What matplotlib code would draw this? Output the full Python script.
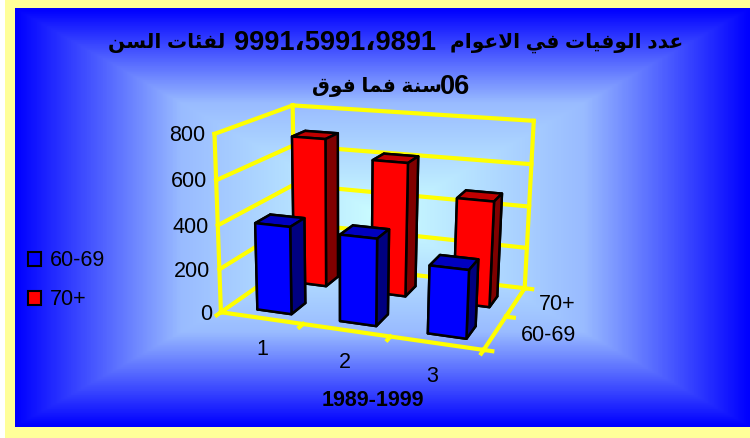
import unicodedata
import numpy as np
import matplotlib
matplotlib.use("Agg")
import matplotlib.pyplot as plt
from matplotlib.patches import Patch, Rectangle
from matplotlib.colors import LinearSegmentedColormap

# title pieces as they sit on each line, left to right
title_line1 = ["لفئات السن", "1989،1995،1999", "عدد الوفيات في الاعوام"]
title_line2 = ["سنة فما فوق", "60"]
categories = ["1", "2", "3"]
series_names = ["60-69", "70+"]
values_60 = [400, 390, 300]
values_70 = [710, 630, 490]
value_ticks = [0, 200, 400, 600, 800]
xlabel = "1989-1999"

RIGHT_ONLY = "اأإآدذرزوؤة"


def is_letter(c):
    return "\u0600" <= c <= "\u06ff" and c.isalpha()


def joins_forward(c):
    return is_letter(c) and c not in RIGHT_ONLY and c != "ء"


def shape(text):
    # matplotlib has no arabic shaping, so pick presentation forms by hand
    out = []
    i = 0
    while i < len(text):
        c = text[i]
        if not is_letter(c):
            out.append(c)
            i += 1
            continue
        before = i > 0 and joins_forward(text[i - 1])
        if c == "ل" and i + 1 < len(text) and text[i + 1] == "ا":
            form = "FINAL" if before else "ISOLATED"
            out.append(unicodedata.lookup("ARABIC LIGATURE LAM WITH ALEF " + form + " FORM"))
            i += 2
            continue
        after = joins_forward(c) and i + 1 < len(text) and is_letter(text[i + 1])
        form = {(0, 0): "ISOLATED", (0, 1): "INITIAL", (1, 0): "FINAL", (1, 1): "MEDIAL"}[(int(before), int(after))]
        out.append(unicodedata.lookup(unicodedata.name(c) + " " + form + " FORM"))
        i += 1
    # the reference shows the whole line mirrored, digits too
    return "".join(out)[::-1]


plt.rcParams["font.family"] = ["Liberation Sans", "DejaVu Sans"]

fig = plt.figure(figsize=(7.5, 4.38), dpi=100, facecolor="white")

bg = fig.add_axes([0, 0, 1, 1])
bg.set_xlim(0, 750)
bg.set_ylim(438, 0)
bg.axis("off")
bg.add_patch(Rectangle((5, 0), 745, 438, color="#FFFF99", lw=0))
xx, yy = np.meshgrid(np.linspace(-1, 1, 368), np.linspace(-1, 1, 210))
grad = np.maximum(np.abs(xx), np.abs(yy))
cmap = LinearSegmentedColormap.from_list("bg", [(0, "#CCFFFF"), (0.55, "#99BBFF"), (1, "#0000FF")])
bg.imshow(grad, extent=(15, 750, 427, 8), cmap=cmap, vmin=0, vmax=1, aspect="auto", zorder=1)

title_pos = [(167, 43, 14.5), (335, 43, 19.5), (567, 43, 14.5)]
for piece, (x, y, size) in zip(title_line1, title_pos):
    bg.text(x, y, shape(piece), ha="center", va="center", fontsize=size, fontweight="bold", color="black", zorder=3)
title_pos = [(377, 87, 14.5), (455, 87, 19.5)]
for piece, (x, y, size) in zip(title_line2, title_pos):
    bg.text(x, y, shape(piece), ha="center", va="center", fontsize=size, fontweight="bold", color="black", zorder=3)

# square axes wider than the figure, 3d axes are always square
side = 750 / 438
ax = fig.add_axes([0, (1 - side) / 2, 1, side], projection="3d", computed_zorder=False)
ax.patch.set_alpha(0)
ax.set_axis_off()
ax.set_xlim(0, 3, view_margin=0)
ax.set_ylim(0, 2, view_margin=0)
ax.set_zlim(0, 800, view_margin=0)
ax.apply_aspect()

# excel's view is not a camera that view_init can give, so fit the projection to the frame corners
corners = [(0, 0, 0), (3, 0, 0), (3, 2, 0), (0, 2, 0), (0, 0, 800), (0, 2, 800), (3, 2, 800)]
corner_px = [(221, 313), (483, 350), (525, 288), (295, 260), (215, 133), (292, 106), (534, 121)]
view_pts = ax.transData.inverted().transform([(px, 438 - py) for px, py in corner_px])
rows, rhs = [], []
for (wx, wy, wz), (u, v) in zip(corners, view_pts):
    p = [wx, wy, wz / 800, 1]
    rows.append(p + [0, 0, 0, 0] + [-u * c for c in p[:3]])
    rows.append([0, 0, 0, 0] + p + [-v * c for c in p[:3]])
    rhs += [u, v]
h = np.linalg.lstsq(np.array(rows), np.array(rhs), rcond=None)[0]
M = np.array([
    [h[0], h[1], h[2] / 800, h[3]],
    [h[4], h[5], h[6] / 800, h[7]],
    [-0.3, 0.3, 0.1 / 800, -2],  # only for sorting the faces, has to stay negative
    [h[8], h[9], h[10] / 800, 1],
])
ax.get_proj = lambda: M

yellow = dict(color="#FFFF00", lw=3, solid_capstyle="projecting", zorder=1)
for v in value_ticks:
    ax.plot([0, 0], [0, 2], [v, v], **yellow)
    ax.plot([0, 3], [2, 2], [v, v], **yellow)
    ax.text(-0.06, -0.1, v, str(v), ha="right", va="center", fontsize=15.5, color="black")
ax.plot([0, 0], [0, 0], [0, 800], **yellow)
ax.plot([0, 0], [2, 2], [0, 800], **yellow)
ax.plot([3, 3], [2, 2], [0, 800], **yellow)
ax.plot([0, 3], [0, 0], [0, 0], **yellow)
ax.plot([3, 3], [0, 2], [0, 0], **yellow)
for k in range(0, 4):
    ax.plot([k, k], [0, -0.1], [0, 0], **yellow)
for k in range(0, 3):
    ax.plot([3, 3.09], [k, k], [0, 0], **yellow)

for k, name in enumerate(categories):
    ax.text(0.9 + k * 0.9, -0.8, 0, name, ha="center", va="center", fontsize=15.5, color="black")
for k, name in enumerate(series_names):
    ax.text(3.27, k + 0.52, 0, name, ha="left", va="center", fontsize=15.5, color="black")


def faces(front, top, side):
    # bar3d order: bottom, top, front, back, left, right
    return [side, top, front, front, side, side]


bar_w = 0.42
bar_d = 0.38
bars = [
    (values_60, faces("#0000FF", "#0000C0", "#000080")),
    (values_70, faces("#FF0000", "#C00000", "#800000")),
]
for s in [1, 0]:
    vals, cols = bars[s]
    for k in range(len(categories)):
        ax.bar3d(k + 0.55 - bar_w / 2, s + 0.225, 0, bar_w, bar_d, vals[k],
                 color=cols, edgecolor="black", linewidth=1.8, shade=False, zorder=2)

bg.text(373, 400, xlabel, ha="center", va="center", fontsize=15.5, fontweight="bold", color="black", zorder=3)

handles = [Patch(facecolor="#0000FF", edgecolor="black", lw=1.5), Patch(facecolor="#FF0000", edgecolor="black", lw=1.5)]
fig.legend(handles, series_names, loc="center left", bbox_to_anchor=(0.011, 0.36), frameon=False, fontsize=15.5,
           handlelength=0.62, handleheight=0.62, handletextpad=0.42, labelspacing=0.85, labelcolor="black")

fig.savefig("out.png", dpi=100, facecolor="white")
